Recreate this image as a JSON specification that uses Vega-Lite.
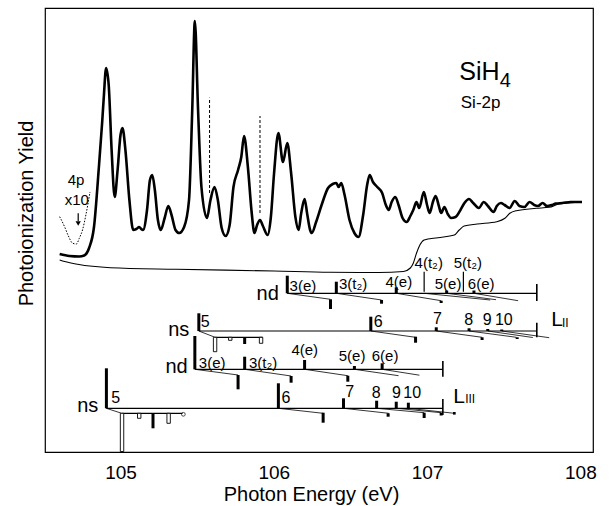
{
  "$schema": "https://vega.github.io/schema/vega-lite/v6.json",
  "width": 548,
  "height": 444,
  "autosize": {"type": "none"},
  "padding": {"left": 45, "top": 8, "right": 17, "bottom": 54},
  "background": "white",
  "config": {
    "font": "Liberation Sans",
    "view": {"stroke": "black", "strokeWidth": 1.2},
    "axis": {"domain": false, "labelColor": "black", "titleColor": "black", "titleFontWeight": "normal"}
  },
  "datasets": {
    "ticks": [
      {"E":104.6,"kind":"minor"},{"E":104.7,"kind":"minor"},{"E":104.8,"kind":"minor"},{"E":104.9,"kind":"minor"},{"E":105.0,"kind":"major"},
      {"E":105.1,"kind":"minor"},{"E":105.2,"kind":"minor"},{"E":105.3,"kind":"minor"},{"E":105.4,"kind":"minor"},{"E":105.5,"kind":"minor"},
      {"E":105.6,"kind":"minor"},{"E":105.7,"kind":"minor"},{"E":105.8,"kind":"minor"},{"E":105.9,"kind":"minor"},{"E":106.0,"kind":"major"},
      {"E":106.1,"kind":"minor"},{"E":106.2,"kind":"minor"},{"E":106.3,"kind":"minor"},{"E":106.4,"kind":"minor"},{"E":106.5,"kind":"minor"},
      {"E":106.6,"kind":"minor"},{"E":106.7,"kind":"minor"},{"E":106.8,"kind":"minor"},{"E":106.9,"kind":"minor"},{"E":107.0,"kind":"major"},
      {"E":107.1,"kind":"minor"},{"E":107.2,"kind":"minor"},{"E":107.3,"kind":"minor"},{"E":107.4,"kind":"minor"},{"E":107.5,"kind":"minor"},
      {"E":107.6,"kind":"minor"},{"E":107.7,"kind":"minor"},{"E":107.8,"kind":"minor"},{"E":107.9,"kind":"minor"},{"E":108.0,"kind":"major"}
    ],
    "spec": [
      {"E":104.603,"Y":198},{"E":104.667,"Y":196},{"E":104.731,"Y":195.5},{"E":104.763,"Y":196.5},{"E":104.795,"Y":204},{"E":104.827,"Y":225},{"E":104.859,"Y":285},{"E":104.880,"Y":329},{"E":104.891,"Y":355},{"E":104.906,"Y":384},{"E":104.923,"Y":367},{"E":104.942,"Y":302},{"E":104.962,"Y":255},{"E":104.981,"Y":282},{"E":105.000,"Y":317},{"E":105.013,"Y":324},{"E":105.032,"Y":302},{"E":105.058,"Y":252},{"E":105.083,"Y":222},{"E":105.103,"Y":223},{"E":105.122,"Y":225},{"E":105.135,"Y":223},{"E":105.147,"Y":222},{"E":105.173,"Y":242},{"E":105.192,"Y":272},{"E":105.207,"Y":277},{"E":105.224,"Y":262},{"E":105.244,"Y":232},{"E":105.263,"Y":222},{"E":105.288,"Y":234},{"E":105.312,"Y":246},{"E":105.333,"Y":237},{"E":105.359,"Y":222},{"E":105.383,"Y":219},{"E":105.415,"Y":225},{"E":105.447,"Y":252},{"E":105.468,"Y":342},{"E":105.485,"Y":431},{"E":105.506,"Y":342},{"E":105.528,"Y":265},{"E":105.564,"Y":234},{"E":105.587,"Y":252},{"E":105.613,"Y":265},{"E":105.635,"Y":252},{"E":105.660,"Y":224},{"E":105.686,"Y":216},{"E":105.712,"Y":227},{"E":105.737,"Y":265},{"E":105.767,"Y":282},{"E":105.788,"Y":295},{"E":105.806,"Y":316},{"E":105.831,"Y":285},{"E":105.856,"Y":239},{"E":105.874,"Y":219},{"E":105.891,"Y":227},{"E":105.910,"Y":232},{"E":105.929,"Y":226},{"E":105.960,"Y":217},{"E":105.981,"Y":235},{"E":106.002,"Y":279},{"E":106.030,"Y":319},{"E":106.060,"Y":290},{"E":106.088,"Y":309},{"E":106.113,"Y":279},{"E":106.141,"Y":235},{"E":106.162,"Y":222},{"E":106.179,"Y":239},{"E":106.201,"Y":253},{"E":106.218,"Y":238},{"E":106.237,"Y":222},{"E":106.248,"Y":219},{"E":106.276,"Y":230},{"E":106.312,"Y":247},{"E":106.354,"Y":264},{"E":106.385,"Y":268},{"E":106.408,"Y":269},{"E":106.423,"Y":265},{"E":106.440,"Y":269},{"E":106.462,"Y":257},{"E":106.494,"Y":232},{"E":106.526,"Y":219},{"E":106.553,"Y":215},{"E":106.583,"Y":237},{"E":106.609,"Y":267},{"E":106.626,"Y":277},{"E":106.647,"Y":270},{"E":106.675,"Y":265},{"E":106.707,"Y":259},{"E":106.731,"Y":247},{"E":106.750,"Y":242},{"E":106.769,"Y":250},{"E":106.793,"Y":255},{"E":106.814,"Y":247},{"E":106.840,"Y":234},{"E":106.867,"Y":230},{"E":106.891,"Y":236},{"E":106.910,"Y":242},{"E":106.931,"Y":250},{"E":106.949,"Y":244},{"E":106.979,"Y":260},{"E":107.000,"Y":247},{"E":107.017,"Y":239},{"E":107.038,"Y":250},{"E":107.056,"Y":256},{"E":107.077,"Y":246},{"E":107.092,"Y":239},{"E":107.113,"Y":245},{"E":107.135,"Y":238},{"E":107.156,"Y":234},{"E":107.186,"Y":235},{"E":107.218,"Y":242},{"E":107.244,"Y":249},{"E":107.274,"Y":253},{"E":107.301,"Y":249},{"E":107.338,"Y":244},{"E":107.370,"Y":250},{"E":107.397,"Y":246},{"E":107.434,"Y":240},{"E":107.455,"Y":246},{"E":107.481,"Y":249},{"E":107.506,"Y":247},{"E":107.538,"Y":244},{"E":107.572,"Y":251},{"E":107.603,"Y":246},{"E":107.635,"Y":245},{"E":107.669,"Y":250},{"E":107.699,"Y":247},{"E":107.724,"Y":246},{"E":107.754,"Y":249},{"E":107.782,"Y":246},{"E":107.814,"Y":247},{"E":107.840,"Y":248.5},{"E":107.883,"Y":249},{"E":107.936,"Y":250},{"E":108.011,"Y":250}
    ],
    "ion": [
      {"E":104.603,"Y":192},{"E":104.635,"Y":190.5},{"E":104.720,"Y":187.7},{"E":104.934,"Y":184.3},{"E":105.361,"Y":182.7},{"E":106.002,"Y":181},{"E":106.365,"Y":179.7},{"E":106.686,"Y":179.5},{"E":106.846,"Y":180.5},{"E":106.891,"Y":184},{"E":106.910,"Y":188.7},{"E":106.931,"Y":198.7},{"E":106.953,"Y":207},{"E":106.981,"Y":212},{"E":107.071,"Y":214.3},{"E":107.178,"Y":217},{"E":107.210,"Y":222},{"E":107.242,"Y":226},{"E":107.327,"Y":228},{"E":107.455,"Y":230.3},{"E":107.508,"Y":233.7},{"E":107.540,"Y":238.7},{"E":107.583,"Y":241.3},{"E":107.712,"Y":243.7},{"E":107.797,"Y":244.7},{"E":107.861,"Y":248},{"E":108.011,"Y":249.7}
    ],
    "p4": [
      {"E":104.603,"Y":235.3},{"E":104.635,"Y":225.3},{"E":104.660,"Y":216},{"E":104.688,"Y":208.7},{"E":104.712,"Y":208},{"E":104.731,"Y":213.7},{"E":104.752,"Y":222},{"E":104.774,"Y":237},{"E":104.801,"Y":260}
    ],
    "vlines": [
      {"E":105.581,"Y":259,"Y2":354.3},{"E":105.910,"Y":239,"Y2":336}
    ],
    "arrow": [
      {"E":104.724,"Y":238.7,"Y2":231}
    ],
    "arrowhead": [
      {"E":104.724,"Y":228.5}
    ],
    "segs": [
      {"kind":"base","E":106.088,"Y":158.7,"E2":107.716,"Y2":158.7},
      {"kind":"base","E":105.511,"Y":121,"E2":107.716,"Y2":121},
      {"kind":"base","E":105.485,"Y":82.7,"E2":107.103,"Y2":82.7},
      {"kind":"base","E":104.908,"Y":43.7,"E2":107.103,"Y2":43.7},
      {"kind":"base","E":105.617,"Y":114.7,"E2":105.927,"Y2":114.7},
      {"kind":"base","E":105.010,"Y":38.7,"E2":105.404,"Y2":38.7},
      {"kind":"fan","E":106.088,"Y":158.7,"E2":106.370,"Y2":152.7},
      {"kind":"fan","E":106.408,"Y":158.7,"E2":106.703,"Y2":152},
      {"kind":"fan","E":106.799,"Y":158.7,"E2":107.092,"Y2":151.3},
      {"kind":"fan","E":106.981,"Y":158.7,"E2":107.412,"Y2":152},
      {"kind":"fan","E":107.128,"Y":158.7,"E2":107.450,"Y2":152.3},
      {"kind":"fan","E":107.306,"Y":158.7,"E2":107.594,"Y2":151.3},
      {"kind":"fan","E":105.511,"Y":121,"E2":105.617,"Y2":114.7},
      {"kind":"fan","E":106.633,"Y":121,"E2":106.925,"Y2":114.7},
      {"kind":"fan","E":107.060,"Y":121,"E2":107.359,"Y2":114.7},
      {"kind":"fan","E":107.274,"Y":121,"E2":107.583,"Y2":114.7},
      {"kind":"fan","E":107.396,"Y":121,"E2":107.690,"Y2":114.5},
      {"kind":"fan","E":107.487,"Y":121,"E2":107.797,"Y2":114.3},
      {"kind":"fan","E":105.485,"Y":82.7,"E2":105.767,"Y2":77},
      {"kind":"fan","E":105.810,"Y":82.7,"E2":106.113,"Y2":76},
      {"kind":"fan","E":106.201,"Y":82.7,"E2":106.483,"Y2":76.3},
      {"kind":"fan","E":106.526,"Y":82.7,"E2":106.814,"Y2":76.3},
      {"kind":"fan","E":106.707,"Y":82.7,"E2":106.950,"Y2":76.8},
      {"kind":"fan","E":104.908,"Y":43.7,"E2":105.008,"Y2":38.7},
      {"kind":"fan","E":106.030,"Y":43.7,"E2":106.322,"Y2":38.7},
      {"kind":"fan","E":106.455,"Y":43.7,"E2":106.750,"Y2":38.7},
      {"kind":"fan","E":106.671,"Y":43.7,"E2":106.981,"Y2":39.3},
      {"kind":"fan","E":106.799,"Y":43.7,"E2":107.092,"Y2":39.3},
      {"kind":"fan","E":106.878,"Y":43.7,"E2":107.178,"Y2":38.7},
      {"kind":"end","E":107.716,"Y":168,"E2":107.716,"Y2":151},
      {"kind":"end","E":107.716,"Y":129.3,"E2":107.716,"Y2":114.7},
      {"kind":"end","E":107.103,"Y":91,"E2":107.103,"Y2":75.3},
      {"kind":"end","E":107.103,"Y":53,"E2":107.103,"Y2":37}
    ],
    "bars": [
      {"kind":"strong","E":106.088,"Y":158.7,"Y2":176.3},
      {"kind":"strong","E":106.408,"Y":158.7,"Y2":170.3},
      {"kind":"strong","E":106.799,"Y":158.7,"Y2":164.7},
      {"kind":"strong","E":107.128,"Y":158.7,"Y2":161.5},
      {"kind":"strong","E":107.306,"Y":158.7,"Y2":161.5},
      {"kind":"strong","E":106.370,"Y":152.7,"Y2":143},
      {"kind":"strong","E":106.703,"Y":152,"Y2":148.3},
      {"kind":"strong","E":107.092,"Y":151.3,"Y2":149},
      {"kind":"strong","E":105.511,"Y":121,"Y2":138.7},
      {"kind":"strong","E":106.633,"Y":121,"Y2":135.3},
      {"kind":"strong","E":107.060,"Y":121,"Y2":124.7},
      {"kind":"strong","E":107.274,"Y":121,"Y2":123.7},
      {"kind":"strong","E":107.396,"Y":121,"Y2":123},
      {"kind":"strong","E":107.487,"Y":121,"Y2":122.5},
      {"kind":"strong","E":105.810,"Y":114.7,"Y2":108},
      {"kind":"strong","E":106.925,"Y":115.3,"Y2":109.3},
      {"kind":"strong","E":107.359,"Y":114.7,"Y2":112},
      {"kind":"strong","E":107.588,"Y":114.7,"Y2":113},
      {"kind":"strong","E":105.485,"Y":82.7,"Y2":116},
      {"kind":"strong","E":105.810,"Y":82.7,"Y2":95.3},
      {"kind":"strong","E":106.201,"Y":82.7,"Y2":92},
      {"kind":"strong","E":106.526,"Y":82.7,"Y2":86},
      {"kind":"strong","E":106.707,"Y":82.7,"Y2":88.7},
      {"kind":"strong","E":105.767,"Y":77,"Y2":62.7},
      {"kind":"strong","E":106.113,"Y":76,"Y2":69.3},
      {"kind":"strong","E":106.483,"Y":76.3,"Y2":70.3},
      {"kind":"strong","E":104.908,"Y":43.7,"Y2":83.7},
      {"kind":"strong","E":106.030,"Y":43.7,"Y2":68.7},
      {"kind":"strong","E":106.455,"Y":43.7,"Y2":53.7},
      {"kind":"strong","E":106.671,"Y":43.7,"Y2":51.3},
      {"kind":"strong","E":106.799,"Y":43.7,"Y2":50.3},
      {"kind":"strong","E":106.878,"Y":43.7,"Y2":49.3},
      {"kind":"strong","E":105.212,"Y":38.7,"Y2":23.7},
      {"kind":"strong","E":106.322,"Y":39.3,"Y2":29.3},
      {"kind":"strong","E":106.746,"Y":38.7,"Y2":35.3},
      {"kind":"strong","E":106.981,"Y":39.3,"Y2":34},
      {"kind":"strong","E":107.092,"Y":39.3,"Y2":36.5},
      {"kind":"weak","E":106.981,"Y":160.3,"Y2":180.3},
      {"kind":"weak","E":107.237,"Y":160.3,"Y2":180.3}
    ],
    "hollow": [
      {"E":105.617,"Y":114.7,"Y2":100.3},
      {"E":105.716,"Y":114.7,"Y2":111.7},
      {"E":105.917,"Y":114.7,"Y2":108.7},
      {"E":105.010,"Y":38.7,"Y2":0.5},
      {"E":105.122,"Y":38.7,"Y2":33.7},
      {"E":105.314,"Y":38.7,"Y2":28.7}
    ],
    "dots": [
      {"kind":"open","E":105.410,"Y":37.7},
      {"kind":"solid","E":107.178,"Y":38.7}
    ],
    "labels": [
      {"group":"series","text":"nd","E":105.960,"Y":152},
      {"group":"series","text":"ns","E":105.380,"Y":116},
      {"group":"series","text":"nd","E":105.366,"Y":79.3},
      {"group":"series","text":"ns","E":104.786,"Y":40.3},
      {"group":"level","text":"3(e)","E":106.190,"Y":161},
      {"group":"level","text":"3(t₂)","E":106.518,"Y":162.7},
      {"group":"level","text":"4(e)","E":106.816,"Y":165.3},
      {"group":"level","text":"4(t₂)","E":107.011,"Y":183.7},
      {"group":"level","text":"5(t₂)","E":107.266,"Y":183.7},
      {"group":"level","text":"5(e)","E":107.137,"Y":162.7},
      {"group":"level","text":"6(e)","E":107.353,"Y":162.7},
      {"group":"level","text":"3(e)","E":105.598,"Y":84.3},
      {"group":"level","text":"3(t₂)","E":105.930,"Y":84.3},
      {"group":"level","text":"4(e)","E":106.202,"Y":97},
      {"group":"level","text":"5(e)","E":106.511,"Y":91},
      {"group":"level","text":"6(e)","E":106.726,"Y":91},
      {"group":"n","text":"5","E":105.553,"Y":125.3},
      {"group":"n","text":"6","E":106.682,"Y":125.3},
      {"group":"n","text":"7","E":107.068,"Y":128},
      {"group":"n","text":"8","E":107.271,"Y":127},
      {"group":"n","text":"9","E":107.393,"Y":127},
      {"group":"n","text":"10","E":107.501,"Y":127},
      {"group":"n","text":"5","E":104.969,"Y":48.7},
      {"group":"n","text":"6","E":106.080,"Y":48.7},
      {"group":"n","text":"7","E":106.496,"Y":55.3},
      {"group":"n","text":"8","E":106.668,"Y":53.7},
      {"group":"n","text":"9","E":106.800,"Y":53.7},
      {"group":"n","text":"10","E":106.903,"Y":53.7},
      {"group":"note","text":"4p","E":104.710,"Y":267},
      {"group":"note","text":"x10","E":104.715,"Y":247},
      {"group":"L","text":"L","E":107.848,"Y":126.3},
      {"group":"L","text":"L","E":107.209,"Y":49.3},
      {"group":"sub","text":"II","E":107.902,"Y":125.3},
      {"group":"sub","text":"III","E":107.281,"Y":49.3},
      {"group":"mol","text":"SiH","E":107.210,"Y":372},
      {"group":"mol4","text":"4","E":107.474,"Y":365.3},
      {"group":"core","text":"Si-2p","E":107.220,"Y":344}
    ]
  },
  "encoding": {
    "x": {"field": "E", "type": "quantitative",
          "scale": {"domain": [104.54, 108.05], "nice": false, "zero": false},
          "axis": {"orient": "bottom", "values": [105, 106, 107, 108],
                   "ticks": false, "tickSize": 0, "grid": false, "format": ".0f",
                   "labelOverlap": false, "labelFlush": false, "labelBound": false,
                   "labelFontSize": 19, "labelBaseline": "alphabetic", "labelPadding": 26,
                   "title": "Photon Energy (eV)", "titleFontSize": 20, "titleAlign": "center",
                   "titleBaseline": "alphabetic", "titleX": 266, "titleY": 48}},
    "y": {"field": "Y", "type": "quantitative",
          "scale": {"domain": [0, 444], "nice": false, "zero": false},
          "axis": {"orient": "left", "labels": false, "ticks": false, "tickSize": 0, "grid": false,
                   "title": "Photoionization Yield", "titleFontSize": 20, "titleAngle": -90,
                   "titleAlign": "center", "titleBaseline": "alphabetic", "titleX": -13, "titleY": 205}}
  },
  "layer": [
    {
      "data": {"name": "ticks"},
      "transform": [{"filter": "datum.kind === 'minor'"}],
      "mark": {"type": "rule", "color": "black", "strokeWidth": 1},
      "encoding": {"y": {"datum": 0, "type": "quantitative"}, "y2": {"datum": 5}}
    },
    {
      "data": {"name": "ticks"},
      "transform": [{"filter": "datum.kind === 'major'"}],
      "mark": {"type": "rule", "color": "black", "strokeWidth": 1},
      "encoding": {"y": {"datum": 0, "type": "quantitative"}, "y2": {"datum": 8}}
    },
    {
      "data": {"name": "ticks"},
      "transform": [{"filter": "datum.kind === 'minor'"}],
      "mark": {"type": "rule", "color": "black", "strokeWidth": 1},
      "encoding": {"y": {"datum": 439, "type": "quantitative"}, "y2": {"datum": 444}}
    },
    {
      "data": {"name": "ticks"},
      "transform": [{"filter": "datum.kind === 'major'"}],
      "mark": {"type": "rule", "color": "black", "strokeWidth": 1},
      "encoding": {"y": {"datum": 436, "type": "quantitative"}, "y2": {"datum": 444}}
    },
    {
      "data": {"name": "spec"},
      "mark": {"type": "line", "color": "black", "strokeWidth": 2.6, "interpolate": "monotone"}
    },
    {
      "data": {"name": "ion"},
      "mark": {"type": "line", "color": "black", "strokeWidth": 1.1, "interpolate": "monotone"}
    },
    {
      "data": {"name": "p4"},
      "mark": {"type": "line", "color": "black", "strokeWidth": 1, "strokeDash": [1.5, 1.5], "interpolate": "monotone"}
    },
    {
      "data": {"name": "vlines"},
      "mark": {"type": "rule", "color": "black", "strokeWidth": 1, "strokeDash": [3, 2]},
      "encoding": {"y2": {"field": "Y2"}}
    },
    {
      "data": {"name": "segs"},
      "transform": [{"filter": "datum.kind === 'base'"}],
      "mark": {"type": "rule", "color": "black", "strokeWidth": 1.2},
      "encoding": {"x2": {"field": "E2"}, "y2": {"field": "Y2"}}
    },
    {
      "data": {"name": "segs"},
      "transform": [{"filter": "datum.kind === 'fan'"}],
      "mark": {"type": "rule", "color": "black", "strokeWidth": 0.8},
      "encoding": {"x2": {"field": "E2"}, "y2": {"field": "Y2"}}
    },
    {
      "data": {"name": "segs"},
      "transform": [{"filter": "datum.kind === 'end'"}],
      "mark": {"type": "rule", "color": "black", "strokeWidth": 1.6},
      "encoding": {"x2": {"field": "E2"}, "y2": {"field": "Y2"}}
    },
    {
      "data": {"name": "bars"},
      "transform": [{"filter": "datum.kind === 'strong'"}],
      "mark": {"type": "rule", "color": "black", "strokeWidth": 3},
      "encoding": {"y2": {"field": "Y2"}}
    },
    {
      "data": {"name": "bars"},
      "transform": [{"filter": "datum.kind === 'weak'"}],
      "mark": {"type": "rule", "color": "black", "strokeWidth": 1.2},
      "encoding": {"y2": {"field": "Y2"}}
    },
    {
      "data": {"name": "hollow"},
      "mark": {"type": "bar", "size": 3.4, "fill": "white", "stroke": "black", "strokeWidth": 0.9},
      "encoding": {"y2": {"field": "Y2"}}
    },
    {
      "data": {"name": "dots"},
      "transform": [{"filter": "datum.kind === 'open'"}],
      "mark": {"type": "point", "shape": "circle", "size": 14, "filled": false, "color": "black", "strokeWidth": 1}
    },
    {
      "data": {"name": "dots"},
      "transform": [{"filter": "datum.kind === 'solid'"}],
      "mark": {"type": "point", "shape": "square", "size": 7, "filled": true, "color": "black", "opacity": 1}
    },
    {
      "data": {"name": "arrow"},
      "mark": {"type": "rule", "color": "black", "strokeWidth": 1.2},
      "encoding": {"y2": {"field": "Y2"}}
    },
    {
      "data": {"name": "arrowhead"},
      "mark": {"type": "point", "shape": "triangle-down", "size": 28, "filled": true, "color": "black", "opacity": 1}
    },
    {
      "data": {"name": "labels"},
      "transform": [{"filter": "datum.group === 'series'"}],
      "mark": {"type": "text", "fontSize": 20, "align": "center", "baseline": "alphabetic", "color": "black"},
      "encoding": {"text": {"field": "text"}}
    },
    {
      "data": {"name": "labels"},
      "transform": [{"filter": "datum.group === 'level' || datum.group === 'note'"}],
      "mark": {"type": "text", "fontSize": 15, "align": "center", "baseline": "alphabetic", "color": "black", "font": "Liberation Sans, DejaVu Sans"},
      "encoding": {"text": {"field": "text"}}
    },
    {
      "data": {"name": "labels"},
      "transform": [{"filter": "datum.group === 'n'"}],
      "mark": {"type": "text", "fontSize": 16, "align": "center", "baseline": "alphabetic", "color": "black"},
      "encoding": {"text": {"field": "text"}}
    },
    {
      "data": {"name": "labels"},
      "transform": [{"filter": "datum.group === 'L'"}],
      "mark": {"type": "text", "fontSize": 21, "align": "center", "baseline": "alphabetic", "color": "black"},
      "encoding": {"text": {"field": "text"}}
    },
    {
      "data": {"name": "labels"},
      "transform": [{"filter": "datum.group === 'sub'"}],
      "mark": {"type": "text", "fontSize": 12, "align": "center", "baseline": "alphabetic", "color": "black"},
      "encoding": {"text": {"field": "text"}}
    },
    {
      "data": {"name": "labels"},
      "transform": [{"filter": "datum.group === 'mol'"}],
      "mark": {"type": "text", "fontSize": 25, "align": "left", "baseline": "alphabetic", "color": "black"},
      "encoding": {"text": {"field": "text"}}
    },
    {
      "data": {"name": "labels"},
      "transform": [{"filter": "datum.group === 'mol4'"}],
      "mark": {"type": "text", "fontSize": 20, "align": "left", "baseline": "alphabetic", "color": "black"},
      "encoding": {"text": {"field": "text"}}
    },
    {
      "data": {"name": "labels"},
      "transform": [{"filter": "datum.group === 'core'"}],
      "mark": {"type": "text", "fontSize": 17, "align": "left", "baseline": "alphabetic", "color": "black"},
      "encoding": {"text": {"field": "text"}}
    }
  ]
}
